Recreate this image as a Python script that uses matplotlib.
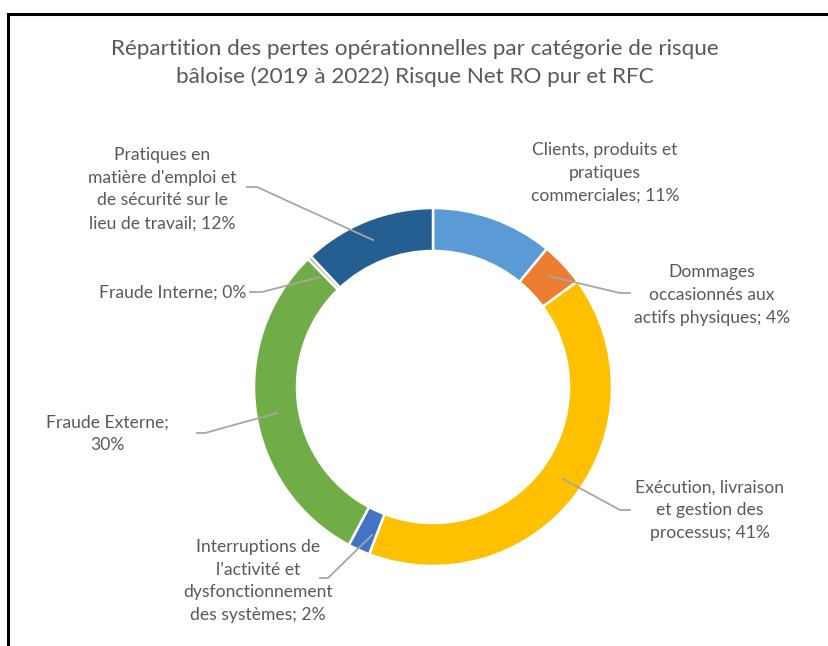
import matplotlib
matplotlib.use("Agg")
import matplotlib.pyplot as plt
from matplotlib.lines import Line2D

plt.rcParams['font.family'] = ['Lato', 'DejaVu Sans']

title = "Répartition des pertes opérationnelles par catégorie de risque\nbâloise (2019 à 2022) Risque Net RO pur et RFC"
categories = [
    "Clients, produits et\npratiques\ncommerciales",
    "Dommages\noccasionnés aux\nactifs physiques",
    "Exécution, livraison\net gestion des\nprocessus",
    "Interruptions de\nl\u2019activité et\ndysfonctionnement\ndes systèmes",
    "Fraude Externe;\n",
    "Fraude Interne",
    "Pratiques en\nmatière d'emploi et\nde sécurité sur le\nlieu de travail",
]
values = [11, 4, 41, 2, 30, 0.35, 12]
pct_labels = ["11%", "4%", "41%", "2%", "30%", "0%", "12%"]
colors = ["#5B9BD5", "#ED7D31", "#FFC000", "#4472C4", "#70AD47", "#A5A5A5", "#255E91"]

W, H = 829, 646
fig = plt.figure(figsize=(W / 100, H / 100), dpi=100)
ax = fig.add_axes([0, 0, 1, 1])
ax.set_xlim(0, W)
ax.set_ylim(0, H)
ax.set_aspect('equal')
ax.axis('off')

def Y(y):
    return H - y

cx, cy, R = 433, 387, 179
ax.pie(values, colors=colors, startangle=90, counterclock=False,
       radius=R, center=(cx, Y(cy)),
       wedgeprops=dict(width=43, edgecolor='white', linewidth=1.8))
ax.set_xlim(0, W)
ax.set_ylim(0, H)

tc = '#595959'
fs = 12.6
ax.text(415, Y(63), title, ha='center', va='center', fontsize=16.2,
        color=tc, linespacing=1.48)

def label(i, x, y, ha='center'):
    txt = categories[i]
    if txt.endswith("\n"):
        txt = txt + pct_labels[i]
    else:
        txt = txt + "; " + pct_labels[i]
    ax.text(x, Y(y), txt, ha=ha, va='center', fontsize=fs, color=tc,
            linespacing=1.52)

def leader(pts):
    xs = [p[0] for p in pts]
    ys = [Y(p[1]) for p in pts]
    ax.add_line(Line2D(xs, ys, color='#A6A6A6', lw=1.3))

label(0, 605, 173)
label(1, 712, 295)
leader([(548, 276), (620, 293), (630, 293)])
label(2, 710, 510)
leader([(563, 479), (620, 510), (630, 510)])
label(3, 258, 581)
leader([(372, 535), (328, 578), (320, 578)])
label(4, 107, 434)
leader([(277, 413), (205, 433), (197, 433)])
label(5, 246, 293, ha='right')
leader([(250, 292), (262, 292), (320, 277)])
label(6, 162, 189)
leader([(247, 187), (257, 187), (373, 240)])

# frame lines
ax.add_line(Line2D([8.5, 8.5, W], [0, Y(13.5), Y(13.5)], color='black', lw=2.2,
                   solid_joinstyle='miter'))

fig.savefig("out.png", dpi=100, facecolor='white')
